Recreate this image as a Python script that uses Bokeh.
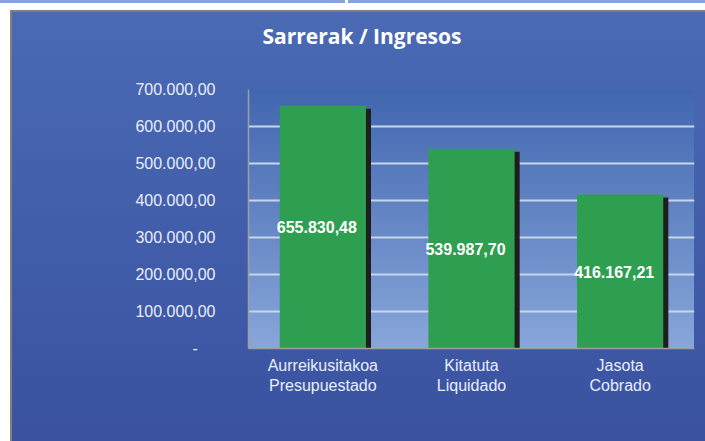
from bokeh.plotting import figure
from bokeh.models import ColumnDataSource, FixedTicker, Range1d, FactorRange
from bokeh.transform import dodge
from bokeh.core.properties import value
from bokeh.embed import file_html
from bokeh.resources import INLINE

# ---- data ----
categories = ["Aurreikusitakoa\nPresupuestado", "Kitatuta\nLiquidado", "Jasota\nCobrado"]
amounts = [655830.48, 539987.70, 416167.21]
amount_labels = ["655.830,48", "539.987,70", "416.167,21"]
y_ticks = [0, 100000, 200000, 300000, 400000, 500000, 600000, 700000]
y_tick_labels = ["-\u00a0\u00a0\u00a0\u00a0", "100.000,00", "200.000,00", "300.000,00", "400.000,00",
                 "500.000,00", "600.000,00", "700.000,00"]
title_text = "Sarrerak / Ingresos"

src = ColumnDataSource(dict(
    cat=categories,
    val=amounts,
    mid=[v / 2 for v in amounts],
    lab=amount_labels,
))

p = figure(
    width=705, height=441,
    x_range=FactorRange(*categories),
    y_range=Range1d(0, 700000),
    output_backend="svg", toolbar_location=None,
    min_border_left=248, min_border_right=11,
    min_border_top=89, min_border_bottom=93,
)
p.background_fill_color = None
p.border_fill_color = None
p.outline_line_color = None

p.styles = {
    "background": (
        "linear-gradient(to bottom, #4066AF, #88A6DA) 248px 89px / 446px 259px no-repeat,"
        "linear-gradient(to bottom, #4A6AB4, #3A52A0) 12px 12px / 693px 429px no-repeat,"
        "linear-gradient(#808080, #808080) 10px 10px / 695px 431px no-repeat,"
        "linear-gradient(#85A4D9, #85A4D9) 0px 0px / 345px 3px no-repeat,"
        "linear-gradient(#85A4D9, #85A4D9) 348px 0px / 357px 3px no-repeat,"
        "#FFFFFF"
    )
}

# title (trailing blank line lifts the text away from the plot area)
p.title.text = title_text + "\n"
p.title.text_color = "white"
p.title.text_font = "Open Sans"
p.title.text_font_style = "bold"
p.title.text_font_size = "21px"
p.title.align = "left"
p.title.offset = 14
p.title.standoff = 24

# shadow bars then bars
p.vbar(x=dodge("cat", 0.034, range=p.x_range), top=dodge("val", -8000), bottom=0,
       width=0.58, source=src, fill_color="#1E1E1E", line_color=None)
p.vbar(x="cat", top="val", bottom=0, width=0.58, source=src,
       fill_color="#2E9F50", line_color=None)

p.text(x="cat", y="mid", text="lab", source=src, text_color="white",
       text_font=value("Liberation Sans"), text_font_style="bold",
       text_font_size="16px", text_align="center", text_baseline="middle",
       x_offset=-6)

# grid
p.xgrid.grid_line_color = None
p.ygrid.ticker = FixedTicker(ticks=y_ticks[1:])
p.ygrid.grid_line_color = "#C8D5EE"
p.ygrid.grid_line_width = 2

# y axis
p.yaxis.ticker = FixedTicker(ticks=y_ticks)
p.yaxis.major_label_overrides = dict(zip(y_ticks, y_tick_labels))
p.yaxis.major_label_text_color = "#E8EEFA"
p.yaxis.major_label_text_font = "Liberation Sans"
p.yaxis.major_label_text_font_size = "16px"
p.yaxis.major_tick_line_color = None
p.yaxis.minor_tick_line_color = None
p.yaxis.major_tick_out = 0
p.yaxis.major_tick_in = 0
p.yaxis.major_label_standoff = 33
p.yaxis.axis_line_color = "#9E9E9E"
p.yaxis.axis_line_width = 1.5

# x axis
p.xaxis.major_label_text_color = "#E8EEFA"
p.xaxis.major_label_text_font = "Liberation Sans"
p.xaxis.major_label_text_font_size = "16px"
p.xaxis.major_tick_line_color = None
p.xaxis.major_tick_out = 0
p.xaxis.major_tick_in = 0
p.xaxis.major_label_standoff = 8
p.xaxis.axis_line_color = "#9E9E9E"
p.xaxis.axis_line_width = 1.5

open("out.html", "w").write(file_html(p, INLINE))
